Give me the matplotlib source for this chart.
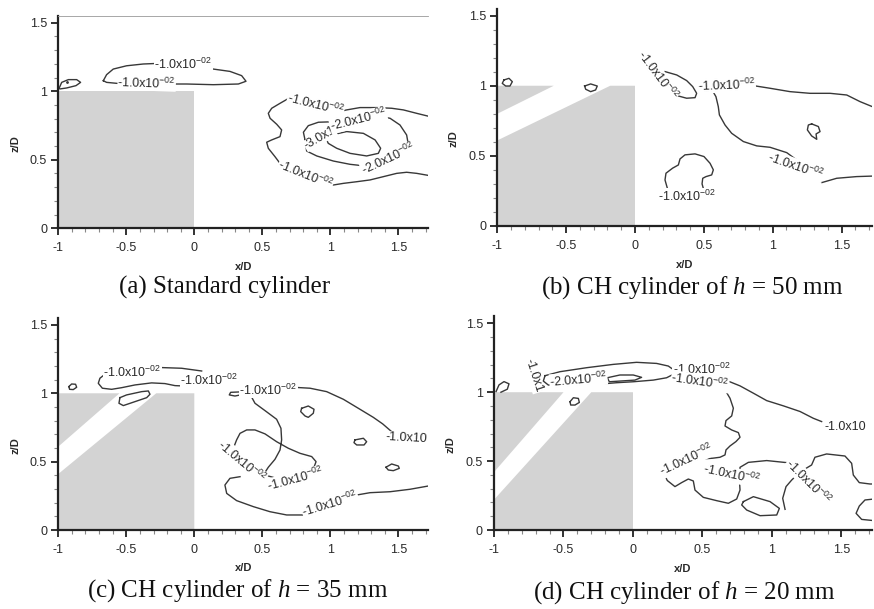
import matplotlib
matplotlib.use('Agg')
import matplotlib.pyplot as plt
from matplotlib.patches import Polygon
from matplotlib.ticker import MultipleLocator, FixedLocator, FixedFormatter

plt.rcParams['font.family'] = ['Liberation Sans', 'DejaVu Sans']
plt.rcParams['mathtext.fontset'] = 'custom'
plt.rcParams['mathtext.rm'] = 'Liberation Serif'
plt.rcParams['mathtext.it'] = 'Liberation Serif:italic'
plt.rcParams['mathtext.default'] = 'regular'

# ---- ticks ----
x_ticks = [-1, -0.5, 0, 0.5, 1, 1.5]
x_tick_labels = ['-1', '-0.5', '0', '0.5', '1', '1.5']
z_ticks = [0, 0.5, 1, 1.5]
z_tick_labels = ['0', '0.5', '1', '1.5']

captions = ['(a) Standard cylinder',
            r'(b) CH cylinder of $\mathit{h}$ = 50 mm',
            r'(c) CH cylinder of $\mathit{h}$ = 35 mm',
            r'(d) CH cylinder of $\mathit{h}$ = 20 mm']

L1 = r'-1.0x10$^{-02}$'
L2 = r'-2.0x10$^{-02}$'

# ---- cylinder cross sections (x/D, z/D) ----
a_cyl = [(-1, 0), (0, 0), (0, 1), (-1, 1)]
b_cyl_low = [(-1, 0), (0, 0), (0, 1), (-0.18, 1), (-1, 0.61)]
b_cyl_tip = [(-1, 1), (-0.59, 1), (-1, 0.80)]
c_cyl_low = [(-1, 0), (0, 0), (0, 1), (-0.28, 1), (-1, 0.41)]
c_cyl_tip = [(-1, 1), (-0.55, 1), (-1, 0.61)]
d_cyl_low = [(-1, 0), (0, 0), (0, 1), (-0.30, 1), (-1, 0.22)]
d_cyl_tip = [(-1, 1), (-0.50, 1), (-1, 0.42)]

# ---- contour lines, panel (a) ----
a_upper = [(-0.669, 1.077), (-0.645, 1.121), (-0.596, 1.162), (-0.498, 1.186), (-0.375, 1.199),
           (-0.277, 1.203), (-0.056, 1.199), (0.140, 1.162), (0.262, 1.145), (0.348, 1.114),
           (0.380, 1.073), (0.324, 1.053), (0.140, 1.048), (-0.056, 1.053), (-0.326, 1.053),
           (-0.571, 1.058), (-0.645, 1.065), (-0.669, 1.077)]
a_corner = [(-0.993, 1.024), (-0.975, 1.065), (-0.926, 1.085), (-0.865, 1.085), (-0.836, 1.065),
            (-0.870, 1.041), (-0.939, 1.024), (-0.988, 1.017)]
a_outer = [(1.733, 0.815), (1.635, 0.839), (1.537, 0.864), (1.451, 0.876), (1.341, 0.881),
           (1.218, 0.881), (1.120, 0.864), (1.084, 0.856), (0.893, 0.905), (0.704, 0.954),
           (0.630, 0.912), (0.569, 0.876), (0.544, 0.839), (0.557, 0.803), (0.606, 0.759),
           (0.642, 0.718), (0.630, 0.669), (0.569, 0.645), (0.532, 0.628), (0.544, 0.584),
           (0.593, 0.523), (0.630, 0.474), (0.819, 0.394), (1.022, 0.316), (1.096, 0.328),
           (1.194, 0.340), (1.292, 0.353), (1.390, 0.377), (1.488, 0.401), (1.561, 0.409),
           (1.635, 0.401), (1.733, 0.384)]
a_mid = [(0.814, 0.645), (0.802, 0.701), (0.838, 0.749), (0.912, 0.774), (1.034, 0.778),
         (1.194, 0.791), (1.365, 0.815), (1.439, 0.803), (1.512, 0.754), (1.561, 0.681),
         (1.574, 0.608), (1.463, 0.499), (1.255, 0.455), (1.145, 0.467), (1.022, 0.491),
         (0.900, 0.528), (0.826, 0.564), (0.814, 0.645)]
a_inner = [(0.973, 0.645), (1.010, 0.681), (1.120, 0.706), (1.243, 0.693), (1.329, 0.645),
           (1.370, 0.584), (1.353, 0.547), (1.267, 0.528), (1.145, 0.547), (1.047, 0.584),
           (0.985, 0.620), (0.973, 0.645)]
a_dot = [(-0.939, 1.068)]
a_labels = [(-0.08, 1.196, L1, 0), (-0.35, 1.060, L1, -2), (0.893, 0.905, L1, -14),
            (0.819, 0.394, L1, -22), (0.924, 0.657, '-3.0x1', 30), (1.206, 0.791, L2, 14),
            (1.427, 0.506, L2, 25)]

# ---- contour lines, panel (b) ----
b_hook = [(0.218, 1.101), (0.303, 1.077), (0.375, 1.037), (0.419, 0.994), (0.448, 0.946),
          (0.436, 0.915), (0.375, 0.911), (0.315, 0.927)]
b_long = [(1.736, 0.846), (1.634, 0.887), (1.538, 0.934), (1.417, 0.946), (1.271, 0.946),
          (1.126, 0.958), (0.981, 0.982), (0.872, 0.999), (0.690, 0.999), (0.557, 0.975),
          (0.588, 0.922), (0.605, 0.851), (0.613, 0.792), (0.654, 0.720), (0.702, 0.661),
          (0.787, 0.602), (0.884, 0.571), (0.981, 0.561), (1.102, 0.523), (1.174, 0.471),
          (1.356, 0.309), (1.465, 0.340), (1.610, 0.352), (1.736, 0.356)]
b_blob = [(1.283, 0.728), (1.332, 0.709), (1.344, 0.673), (1.315, 0.656), (1.320, 0.618),
          (1.283, 0.642), (1.252, 0.685), (1.259, 0.720), (1.283, 0.728)]
b_arch = [(0.235, 0.269), (0.218, 0.328), (0.225, 0.376), (0.273, 0.412), (0.315, 0.435),
          (0.327, 0.478), (0.363, 0.507), (0.436, 0.514), (0.501, 0.495), (0.545, 0.447),
          (0.569, 0.400), (0.557, 0.364), (0.516, 0.352), (0.492, 0.340), (0.487, 0.300),
          (0.496, 0.269)]
b_loop1 = [(-0.952, 1.041), (-0.915, 1.053), (-0.891, 1.029), (-0.908, 0.998), (-0.939, 0.998),
           (-0.964, 1.017), (-0.952, 1.041)]
b_loop2 = [(-0.366, 0.998), (-0.322, 1.013), (-0.274, 0.998), (-0.286, 0.970), (-0.322, 0.958),
           (-0.358, 0.975), (-0.366, 0.998)]
b_labels = [(0.162, 1.077, L1, -53), (0.666, 1.006, L1, 2), (1.170, 0.425, L1, -19),
            (0.375, 0.214, L1, 0)]

# ---- contour lines, panel (c) ----
c_upper = [(0.054, 1.163), (-0.093, 1.183), (-0.240, 1.188), (-0.461, 1.171), (-0.657, 1.139),
           (-0.694, 1.110), (-0.706, 1.073), (-0.676, 1.037), (-0.608, 1.029), (-0.534, 1.041),
           (-0.436, 1.061), (-0.314, 1.076), (-0.216, 1.071), (-0.142, 1.056), (-0.093, 1.054),
           (0.103, 1.085)]
c_corner = [(-0.922, 1.049), (-0.902, 1.068), (-0.873, 1.066), (-0.865, 1.044), (-0.890, 1.027),
            (-0.917, 1.029), (-0.922, 1.049)]
c_slot = [(-0.547, 0.968), (-0.498, 0.988), (-0.387, 1.012), (-0.338, 1.017), (-0.326, 0.993),
          (-0.350, 0.968), (-0.436, 0.939), (-0.522, 0.910), (-0.554, 0.927), (-0.547, 0.968)]
c_top = [(0.373, 0.995), (0.299, 0.980), (0.257, 0.988), (0.267, 1.007), (0.336, 1.010),
         (0.544, 1.024), (0.728, 1.044), (0.851, 1.037), (0.973, 1.012), (1.096, 0.956),
         (1.218, 0.883), (1.316, 0.824), (1.385, 0.776), (1.45, 0.72)]
c_cross = [(0.422, 0.971), (0.446, 0.927), (0.520, 0.873), (0.605, 0.810), (0.637, 0.744),
           (0.642, 0.659), (0.630, 0.585), (0.593, 0.517), (0.544, 0.459), (0.520, 0.422),
           (0.544, 0.395), (0.605, 0.378), (0.740, 0.371), (0.880, 0.459), (0.895, 0.500),
           (0.863, 0.537), (0.777, 0.561), (0.691, 0.598), (0.605, 0.646), (0.520, 0.703),
           (0.446, 0.732), (0.385, 0.732), (0.336, 0.707), (0.311, 0.659), (0.292, 0.610),
           (0.33, 0.50)]
c_bottom = [(0.336, 0.390), (0.262, 0.378), (0.225, 0.329), (0.238, 0.268), (0.311, 0.215),
            (0.434, 0.171), (0.556, 0.134), (0.679, 0.110), (0.801, 0.110), (0.998, 0.190),
            (1.194, 0.256), (1.292, 0.273), (1.439, 0.280), (1.586, 0.298), (1.721, 0.322)]
c_loop1 = [(0.789, 0.890), (0.838, 0.907), (0.880, 0.883), (0.875, 0.854), (0.838, 0.824),
           (0.814, 0.834), (0.782, 0.866), (0.789, 0.890)]
c_loop2 = [(1.181, 0.659), (1.243, 0.671), (1.267, 0.646), (1.248, 0.622), (1.194, 0.622),
           (1.174, 0.639), (1.181, 0.659)]
c_loop3 = [(1.409, 0.459), (1.451, 0.483), (1.500, 0.468), (1.507, 0.451), (1.463, 0.434),
           (1.426, 0.439), (1.409, 0.459)]
c_labels = [(-0.455, 1.152, L1, 0), (0.112, 1.094, L1, 0), (0.544, 1.024, L1, 0),
            (1.56, 0.671, '-1.0x10', -3), (0.35, 0.50, L1, -40), (0.740, 0.371, L1, 15),
            (0.998, 0.190, L1, 17)]

# ---- contour lines, panel (d) ----
d_upper = [(-0.633, 1.120), (-0.525, 1.149), (-0.333, 1.178), (-0.142, 1.202), (0.026, 1.217),
           (0.170, 1.209), (0.254, 1.190), (0.295, 1.161), (0.290, 1.130), (0.242, 1.105),
           (0.146, 1.088), (0.002, 1.076), (-0.118, 1.069), (-0.178, 1.064), (-0.381, 1.057),
           (-0.609, 1.052), (-0.645, 1.081), (-0.633, 1.120)]
d_inner = [(-0.185, 1.105), (-0.094, 1.125), (0.002, 1.125), (0.062, 1.108), (0.014, 1.088),
           (-0.094, 1.081), (-0.170, 1.076), (-0.185, 1.105)]
d_corner = [(-0.985, 1.005), (-0.964, 1.053), (-0.928, 1.077), (-0.892, 1.061), (-0.904, 1.022),
            (-0.95, 1.0)]
d_slot = [(-0.453, 0.931), (-0.429, 0.960), (-0.393, 0.955), (-0.386, 0.926), (-0.417, 0.907),
          (-0.448, 0.907), (-0.453, 0.931)]
d_tail = [(0.55, 1.10), (0.674, 1.085), (0.770, 1.046), (0.866, 0.993), (0.962, 0.939),
          (1.082, 0.901), (1.202, 0.860), (1.297, 0.811), (1.357, 0.787)]
d_wiggle = [(0.662, 1.017), (0.698, 0.956), (0.722, 0.884), (0.710, 0.828), (0.669, 0.794),
            (0.662, 0.755), (0.710, 0.726), (0.758, 0.707), (0.770, 0.673), (0.741, 0.642),
            (0.698, 0.610), (0.669, 0.581), (0.662, 0.545), (0.626, 0.528), (0.573, 0.521),
            (0.386, 0.508), (0.223, 0.407), (0.247, 0.359), (0.302, 0.315), (0.350, 0.344),
            (0.398, 0.370), (0.434, 0.356), (0.446, 0.290), (0.506, 0.237), (0.602, 0.213),
            (0.686, 0.194), (0.746, 0.225), (0.770, 0.290), (0.765, 0.375), (0.770, 0.455),
            (0.830, 0.491), (0.962, 0.504), (1.106, 0.489), (1.149, 0.472), (1.262, 0.351)]
d_right = [(1.094, 0.150), (1.077, 0.230), (1.101, 0.315), (1.142, 0.363), (1.20, 0.42),
           (1.285, 0.472), (1.309, 0.528), (1.393, 0.552), (1.525, 0.537), (1.573, 0.484),
           (1.585, 0.399), (1.628, 0.344), (1.705, 0.334), (1.734, 0.334)]
d_blob = [(0.794, 0.206), (0.866, 0.242), (0.986, 0.206), (1.053, 0.157), (1.034, 0.109),
          (0.914, 0.104), (0.818, 0.145), (0.782, 0.182), (0.794, 0.206)]
d_edge = [(1.734, 0.225), (1.669, 0.218), (1.628, 0.174), (1.605, 0.121), (1.645, 0.077),
          (1.734, 0.068)]
d_labels = [(-0.717, 1.118, '-1.0x1', -72), (-0.393, 1.092, L2, 5), (0.494, 1.165, L1, 0),
            (0.482, 1.076, L1, -8), (1.53, 0.746, '-1.0x10', 0), (0.386, 0.508, L1, 25),
            (0.710, 0.399, L1, -12), (1.262, 0.351, L1, -45)]

panels = [
    dict(rect=[0.0667, 0.6251, 0.4233, 0.3488], cyl=[a_cyl],
         lines=[a_upper, a_corner, a_outer, a_mid, a_inner], dots=a_dot, labels=a_labels,
         cap_xy=(0.2574, 0.528), top=True),
    dict(rect=[0.569, 0.629, 0.4285, 0.3568], cyl=[b_cyl_low, b_cyl_tip],
         lines=[b_hook, b_long, b_blob, b_arch, b_loop1, b_loop2], dots=[], labels=b_labels,
         cap_xy=(0.7918, 0.528), top=False),
    dict(rect=[0.0667, 0.1297, 0.4233, 0.348], cyl=[c_cyl_low, c_cyl_tip],
         lines=[c_upper, c_corner, c_slot, c_top, c_cross, c_bottom, c_loop1, c_loop2, c_loop3],
         dots=[], labels=c_labels, cap_xy=(0.2723, 0.031), top=False),
    dict(rect=[0.5652, 0.1297, 0.4326, 0.3507], cyl=[d_cyl_low, d_cyl_tip],
         lines=[d_upper, d_inner, d_corner, d_slot, d_tail, d_wiggle, d_right, d_blob, d_edge],
         dots=[], labels=d_labels, cap_xy=(0.7826, 0.027), top=False),
]

LINE_C = '#383838'
TXT_C = '#2a2a2a'

fig = plt.figure(figsize=(8.74, 6.09), dpi=100)

for p, caption in zip(panels, captions):
    ax = fig.add_axes(p['rect'])
    ax.set_xlim(-1, 1.72)
    ax.set_ylim(0, 1.55)

    for poly in p['cyl']:
        ax.add_patch(Polygon(poly, closed=True, facecolor='#d3d3d3', edgecolor='none', zorder=1))

    for pts in p['lines']:
        xs = [q[0] for q in pts]
        zs = [q[1] for q in pts]
        ax.plot(xs, zs, color=LINE_C, lw=1.0, zorder=2)
    for q in p['dots']:
        ax.plot(q[0], q[1], '.', color=LINE_C, ms=2, zorder=2)

    # inline contour labels, white box hides the line underneath like Tecplot
    for x, z, s, rot in p['labels']:
        ax.text(x, z, s, fontsize=9, color=TXT_C, rotation=rot, ha='center', va='center',
                rotation_mode='anchor', zorder=3, clip_on=True,
                bbox=dict(facecolor='white', edgecolor='none', pad=0.1))

    ax.spines['right'].set_visible(False)
    if p['top']:
        ax.spines['top'].set_linewidth(0.6)
        ax.spines['top'].set_color('#999999')
    else:
        ax.spines['top'].set_visible(False)
    for side in ['left', 'bottom']:
        ax.spines[side].set_linewidth(1.6)
        ax.spines[side].set_color('#222222')

    ax.xaxis.set_major_locator(FixedLocator(x_ticks))
    ax.xaxis.set_major_formatter(FixedFormatter(x_tick_labels))
    ax.yaxis.set_major_locator(FixedLocator(z_ticks))
    ax.yaxis.set_major_formatter(FixedFormatter(z_tick_labels))
    ax.xaxis.set_minor_locator(MultipleLocator(0.1))
    ax.yaxis.set_minor_locator(MultipleLocator(0.1))
    ax.tick_params(which='major', direction='out', length=5, width=1.3, color='#222222',
                   labelsize=9, labelcolor=TXT_C)
    ax.tick_params(axis='x', which='major', pad=5)
    ax.tick_params(axis='y', which='major', pad=3)
    ax.tick_params(which='minor', direction='out', length=3, width=0.8, color='#888888')

    ax.set_xlabel('x/D', fontsize=8, fontweight='bold', color=TXT_C)
    ax.set_ylabel('z/D', fontsize=8, fontweight='bold', color=TXT_C)
    ax.xaxis.set_label_coords(0.5, -0.158)
    ax.yaxis.set_label_coords(-0.103, 0.40)

    fig.text(p['cap_xy'][0], p['cap_xy'][1], caption, fontsize=18, family='Liberation Serif',
             ha='center', va='center', color='#111111')

fig.savefig('out.png', dpi=100)
